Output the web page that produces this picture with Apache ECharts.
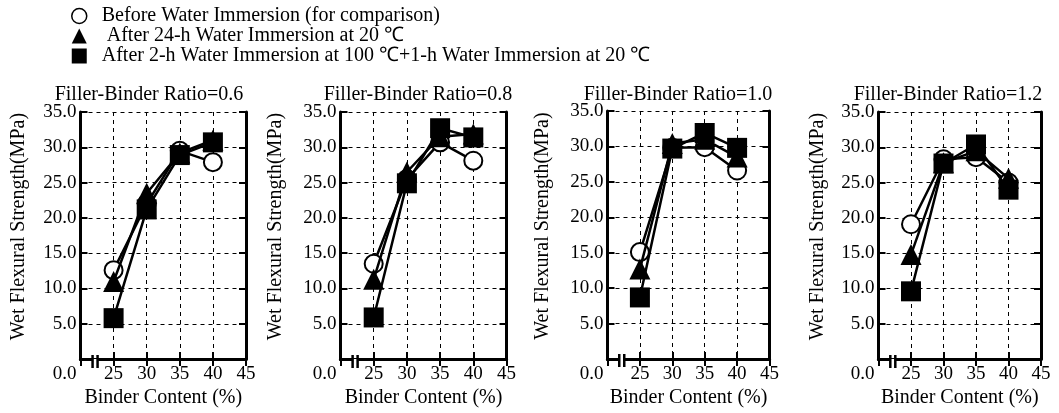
<!DOCTYPE html>
<html><head><meta charset="utf-8">
<script src="https://cdn.jsdelivr.net/npm/echarts@6/dist/echarts.min.js"></script>
<style>html,body{margin:0;padding:0;background:#fff}#c{width:1059px;height:413px}</style>
</head><body><div id="c"></div>
<script>
// ---------------- data ----------------
const binderContent = [25, 30, 35, 40];
const ratioLabels = ['0.6', '0.8', '1.0', '1.2'];
const seriesNames = [
  'Before Water Immersion (for comparison)',
  ' After 24-h Water Immersion at 20 \u2103',
  'After 2-h Water Immersion at 100 \u2103+1-h Water Immersion at 20 \u2103'
];
// ratio 0.6
const before_06 = [12.6, 22.0, 29.5, 27.9];
const after24h_06 = [11.0, 23.5, 29.2, 31.0];
const after2h_06 = [5.8, 21.2, 28.9, 30.7];
// ratio 0.8
const before_08 = [13.5, 25.5, 30.7, 28.1];
const after24h_08 = [11.3, 26.5, 31.5, 31.9];
const after2h_08 = [5.9, 24.9, 32.7, 31.4];
// ratio 1.0
const before_10 = [15.1, 29.8, 29.9, 26.6];
const after24h_10 = [12.7, 30.4, 31.0, 28.5];
const after2h_10 = [8.7, 29.7, 31.9, 29.8];
// ratio 1.2
const before_12 = [19.1, 28.3, 28.6, 25.0];
const after24h_12 = [14.8, 27.8, 29.5, 25.6];
const after2h_12 = [9.6, 27.7, 30.4, 24.0];

const xTickLabels = ['25', '30', '35', '40', '45'];
const yTickLabels = ['0.0', '5.0', '10.0', '15.0', '20.0', '25.0', '30.0', '35.0'];

const panels = [
  [before_06, after24h_06, after2h_06],
  [before_08, after24h_08, after2h_08],
  [before_10, after24h_10, after2h_10],
  [before_12, after24h_12, after2h_12]
];

// ---------------- layout / style ----------------
const FONT = '"Liberation Serif", "Times New Roman", serif';
const FS = 19;
const FS_BIG = 20;
const gridPos = [
  {left: 80.5, top: 112, width: 165.5, height: 250},
  {left: 340.5, top: 112, width: 166, height: 250},
  {left: 607.5, top: 111, width: 162, height: 250},
  {left: 878.5, top: 112, width: 162.5, height: 250}
];
const yNameGap = [52, 55, 55, 51];
const titleCenters = [149, 418, 678, 948];
const breakValue = 22.2;

const symbols = [
  {symbol: 'circle', size: 18, item: {color: '#fff', borderColor: '#000', borderWidth: 2}},
  {symbol: 'triangle', size: 21, item: {color: '#000', borderColor: '#000', borderWidth: 0}},
  {symbol: 'rect', size: 20, item: {color: '#000', borderColor: '#000', borderWidth: 0}}
];

const txt = {fontFamily: FONT, fontSize: FS, color: '#000'};
const txtBig = {fontFamily: FONT, fontSize: FS_BIG, color: '#000'};
const grids = [], xAxes = [], yAxes = [], series = [], titles = [];

gridPos.forEach((g, i) => {
  grids.push(Object.assign({containLabel: false}, g));
  titles.push({
    text: 'Filler-Binder Ratio=' + ratioLabels[i],
    left: titleCenters[i], top: 85, textAlign: 'center', padding: 0,
    textStyle: Object.assign({fontWeight: 'normal'}, txtBig)
  });
  const tick = {show: true, inside: true, length: 7, lineStyle: {color: '#000', width: 2}};
  const axLine = {show: true, lineStyle: {color: '#000', width: 3}};
  xAxes.push({
    type: 'value', gridIndex: i, min: 20, max: 45, interval: 5, position: 'bottom',
    axisLine: axLine, axisTick: tick,
    splitLine: {show: true, lineStyle: {color: '#000', width: 1, type: [4, 4]}},
    axisLabel: Object.assign({margin: 5, formatter: v => {
      const k = xTickLabels.indexOf(String(v)); return k >= 0 ? xTickLabels[k] : '';
    }}, txt),
    name: 'Binder Content (%)', nameLocation: 'middle', nameGap: 28,
    nameTextStyle: txtBig
  });
  xAxes.push({
    type: 'value', gridIndex: i, min: 20, max: 45, interval: 5, position: 'top',
    axisLine: axLine, axisTick: tick, splitLine: {show: false}, axisLabel: {show: false}
  });
  yAxes.push({
    type: 'value', gridIndex: i, min: 0, max: 35, interval: 5, position: 'left',
    axisLine: axLine, axisTick: tick,
    splitLine: {show: true, lineStyle: {color: '#000', width: 1, type: [4, 4]}},
    axisLabel: Object.assign({margin: 4, formatter: v => {
      const s = yTickLabels[Math.round(v / 5)];
      return v === 0 ? '{z|' + s + '}' : s;
    }, rich: {z: {fontFamily: FONT, fontSize: FS, color: '#000', padding: [30, 0, 0, 0]}}}, txt),
    name: 'Wet Flexural Strength(MPa)', nameLocation: 'middle', nameGap: yNameGap[i],
    nameTextStyle: Object.assign({padding: [0, 0, 0, 18]}, txtBig)
  });
  yAxes.push({
    type: 'value', gridIndex: i, min: 0, max: 35, interval: 5, position: 'right',
    axisLine: axLine, axisTick: tick, splitLine: {show: false}, axisLabel: {show: false}
  });
  panels[i].forEach((vals, s) => {
    series.push({
      type: 'line', name: seriesNames[s], xAxisIndex: 2 * i, yAxisIndex: 2 * i,
      data: binderContent.map((x, k) => [x, vals[k]]),
      symbol: symbols[s].symbol, symbolSize: symbols[s].size,
      itemStyle: symbols[s].item, lineStyle: {color: '#000', width: 2.5},
      emphasis: {disabled: true}, z: 3 + s
    });
  });
});

const chart = echarts.init(document.getElementById('c'), null, {renderer: 'canvas'});
chart.setOption({
  animation: false,
  backgroundColor: '#fff',
  title: titles,
  legend: {
    orient: 'vertical', left: 71, top: 6, padding: 0, itemGap: 0,
    itemWidth: 15, itemHeight: 15, selectedMode: false,
    formatter: n => '  ' + n,
    textStyle: Object.assign({lineHeight: 18.5}, txtBig),
    data: [
      {name: seriesNames[0], icon: 'circle', itemStyle: {color: '#fff', borderColor: '#000', borderWidth: 1.5}},
      {name: seriesNames[1], icon: 'triangle', itemStyle: {color: '#000', borderWidth: 0}},
      {name: seriesNames[2], icon: 'rect', itemStyle: {color: '#000', borderWidth: 0}}
    ]
  },
  grid: grids, xAxis: xAxes, yAxis: yAxes, series: series
});

// axis break marks on the bottom axes
const graphics = [];
gridPos.forEach((g, i) => {
  const px = chart.convertToPixel({xAxisIndex: 2 * i}, breakValue);
  const py = g.top + g.height;
  graphics.push({type: 'rect', shape: {x: px - 2, y: py - 3, width: 4, height: 6}, style: {fill: '#fff'}, z: 100});
  graphics.push({type: 'line', shape: {x1: px - 2.5, y1: py - 7, x2: px - 2.5, y2: py + 6}, style: {stroke: '#000', lineWidth: 2.5}, z: 101});
  graphics.push({type: 'line', shape: {x1: px + 2.5, y1: py - 7, x2: px + 2.5, y2: py + 6}, style: {stroke: '#000', lineWidth: 2.5}, z: 101});
});
chart.setOption({graphic: graphics});
</script>
</body></html>
